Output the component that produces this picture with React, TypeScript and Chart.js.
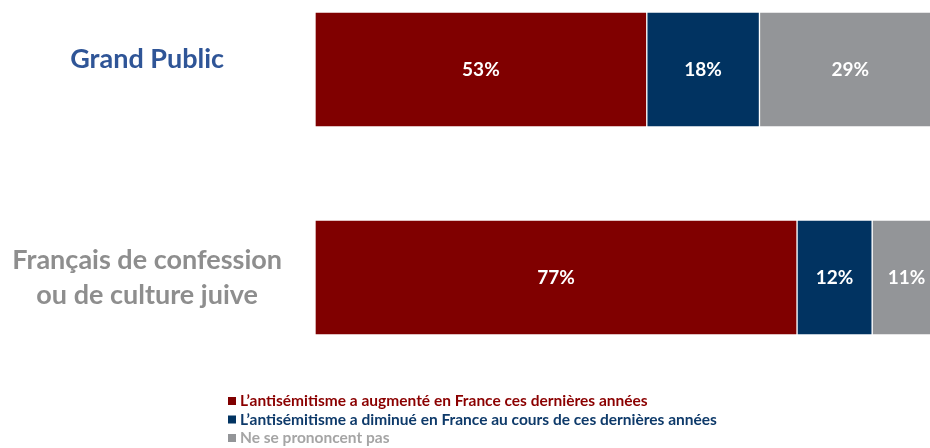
import React, { useEffect, useRef } from "react";
import { Chart, registerables } from "chart.js";

Chart.register(...registerables);

const categories: (string | string[])[] = [
  ["Grand Public", ""],
  ["Français de confession", "ou de culture juive"],
];
const categoryColors = ["#2F5597", "#8E8E8E"];

const seriesLabels = [
  "L’antisémitisme a augmenté en France ces dernières années",
  "L’antisémitisme a diminué en France au cours de ces dernières années",
  "Ne se prononcent pas",
];
const augmente = [53, 77];
const diminue = [18, 12];
const nsp = [29, 11];
const barColors = ["#800000", "#013361", "#939598"];
const legendTextColors = ["#8B0000", "#0E3A6A", "#A5A5A5"];

const FONT = "Lato, 'Open Sans', sans-serif";

const valueLabelsPlugin = {
  id: "valueLabels",
  afterDatasetsDraw(chart: any) {
    const ctx = chart.ctx;
    ctx.save();
    ctx.fillStyle = "#ffffff";
    ctx.font = `bold 19px ${FONT}`;
    ctx.textAlign = "center";
    ctx.textBaseline = "middle";
    chart.data.datasets.forEach((ds: any, di: number) => {
      const meta = chart.getDatasetMeta(di);
      meta.data.forEach((el: any, i: number) => {
        const p = el.getCenterPoint();
        ctx.fillText(`${ds.data[i]}%`, p.x, p.y);
      });
    });
    ctx.restore();
  },
};

const customLegendPlugin = {
  id: "customLegend",
  afterDraw(chart: any, _args: any, opts: any) {
    const ctx = chart.ctx;
    ctx.save();
    ctx.font = `bold 15.5px ${FONT}`;
    ctx.textBaseline = "middle";
    ctx.textAlign = "left";
    chart.data.datasets.forEach((ds: any, i: number) => {
      const y = opts.top + i * opts.spacing;
      ctx.fillStyle = ds.backgroundColor;
      ctx.fillRect(opts.left, y - 4, 8, 8);
      ctx.fillStyle = legendTextColors[i];
      ctx.fillText(ds.label, opts.left + 12, y);
    });
    ctx.restore();
  },
};

export default function App() {
  const ref = useRef<HTMLCanvasElement | null>(null);
  useEffect(() => {
    if (!ref.current) return;
    const chart = new Chart(ref.current, {
      type: "bar",
      data: {
        labels: categories,
        datasets: [augmente, diminue, nsp].map((d, i) => ({
          label: seriesLabels[i],
          data: d,
          backgroundColor: barColors[i],
          borderColor: "rgba(255,255,255,0.85)",
          borderWidth: 1,
          borderSkipped: false,
          barThickness: 115,
          clip: false as any,
        })),
      },
      options: {
        indexAxis: "y",
        responsive: false,
        animation: false,
        layout: { padding: { top: 69.5, bottom: 170.5, left: 0, right: 0 } },
        plugins: {
          legend: { display: false },
          tooltip: { enabled: false },
          customLegend: { left: 228, top: 401, spacing: 18.5 },
        } as any,
        scales: {
          x: {
            stacked: true,
            display: false,
            min: 0,
            max: 98.24,
          },
          y: {
            stacked: true,
            offset: false,
            grid: { display: false, drawTicks: false },
            border: { display: false },
            afterFit: (scale: any) => {
              scale.width = 315;
            },
            ticks: {
              crossAlign: "center",
              padding: 33,
              color: (c: any) => categoryColors[c.index],
              font: (c: any) => ({
                family: FONT,
                size: 27,
                weight: "bold",
                lineHeight: c.index === 0 ? 0.78 : 1.3,
              }),
            },
          },
        },
      },
      plugins: [valueLabelsPlugin, customLegendPlugin],
    });
    return () => chart.destroy();
  }, []);
  return (
    <div style={{ position: "fixed", left: 0, top: 0, width: 930, height: 448, background: "#fff" }}>
      <canvas ref={ref} width={930} height={448} />
    </div>
  );
}
